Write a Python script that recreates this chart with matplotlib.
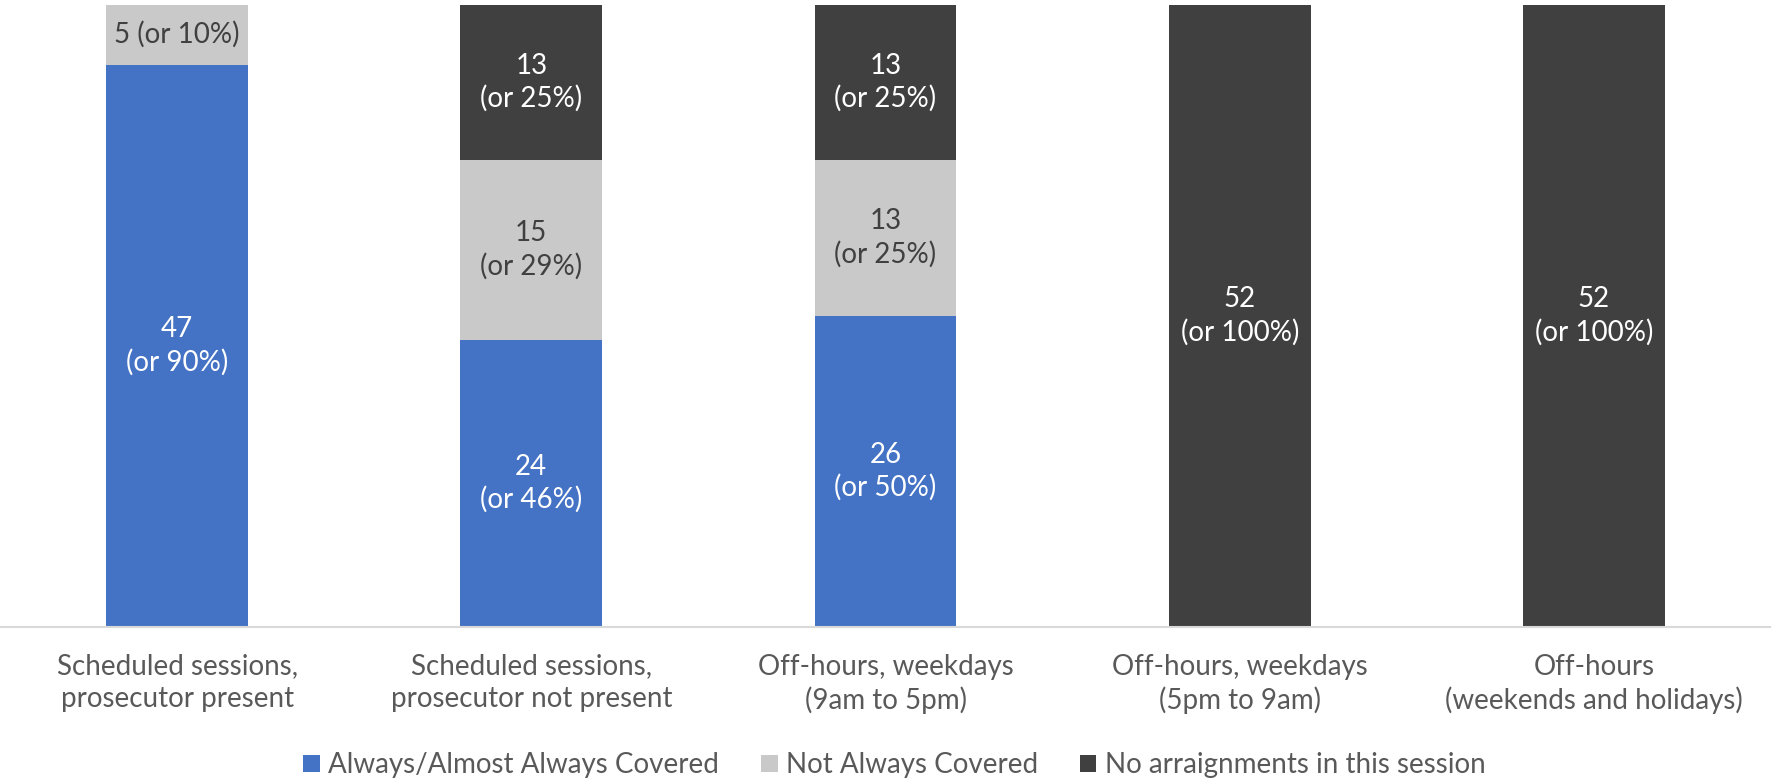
import matplotlib
matplotlib.use('Agg')
import matplotlib.pyplot as plt
import numpy as np

plt.rcParams['font.family'] = ['Lato', 'DejaVu Sans']

categories = ['Scheduled sessions,\nprosecutor present',
              'Scheduled sessions,\nprosecutor not present',
              'Off-hours, weekdays\n(9am to 5pm)',
              'Off-hours, weekdays\n(5pm to 9am)',
              'Off-hours\n(weekends and holidays)']
always_covered = [47, 24, 26, 0, 0]
not_always = [5, 15, 13, 0, 0]
no_arraignments = [0, 13, 13, 52, 52]
total = 52

series = [
    ('Always/Almost Always Covered', always_covered, '#4472C4', 'white'),
    ('Not Always Covered', not_always, '#C9C9C9', '#404040'),
    ('No arraignments in this session', no_arraignments, '#404040', 'white'),
]

fs = 20

fig = plt.figure(figsize=(17.71, 7.8), dpi=100)
ax = fig.add_axes([0, 0.196, 1, 0.798])

x = np.arange(len(categories))
bottom = np.zeros(len(categories))
for name, vals, color, tcolor in series:
    vals = np.array(vals, dtype=float)
    ax.bar(x, vals, 0.4, bottom=bottom, color=color, label=name)
    for i, v in enumerate(vals):
        if v == 0:
            continue
        pct = round(v / total * 100)
        if v < 8:
            lab = f'{int(v)} (or {pct}%)'
        else:
            lab = f'{int(v)}\n(or {pct}%)'
        ax.text(x[i], bottom[i] + v / 2, lab, ha='center', va='center',
                color=tcolor, fontsize=fs, linespacing=1.3)
    bottom += vals

ax.set_xlim(-0.5, 4.5)
ax.set_ylim(0, total)
ax.set_yticks([])
ax.set_xticks(x)
ax.set_xticklabels(categories, fontsize=fs, color='#595959', linespacing=1.3)
ax.tick_params(axis='x', length=0, pad=19)
for s in ['top', 'left', 'right']:
    ax.spines[s].set_visible(False)
ax.spines['bottom'].set_color('#D9D9D9')
ax.spines['bottom'].set_linewidth(1.5)

fig.legend(loc='lower center', bbox_to_anchor=(0.505, -0.03), ncol=3,
           frameon=False, fontsize=fs, handlelength=0.6, handleheight=0.6,
           handletextpad=0.3, columnspacing=1.5, labelcolor='#595959')

fig.savefig('out.png', dpi=100)
